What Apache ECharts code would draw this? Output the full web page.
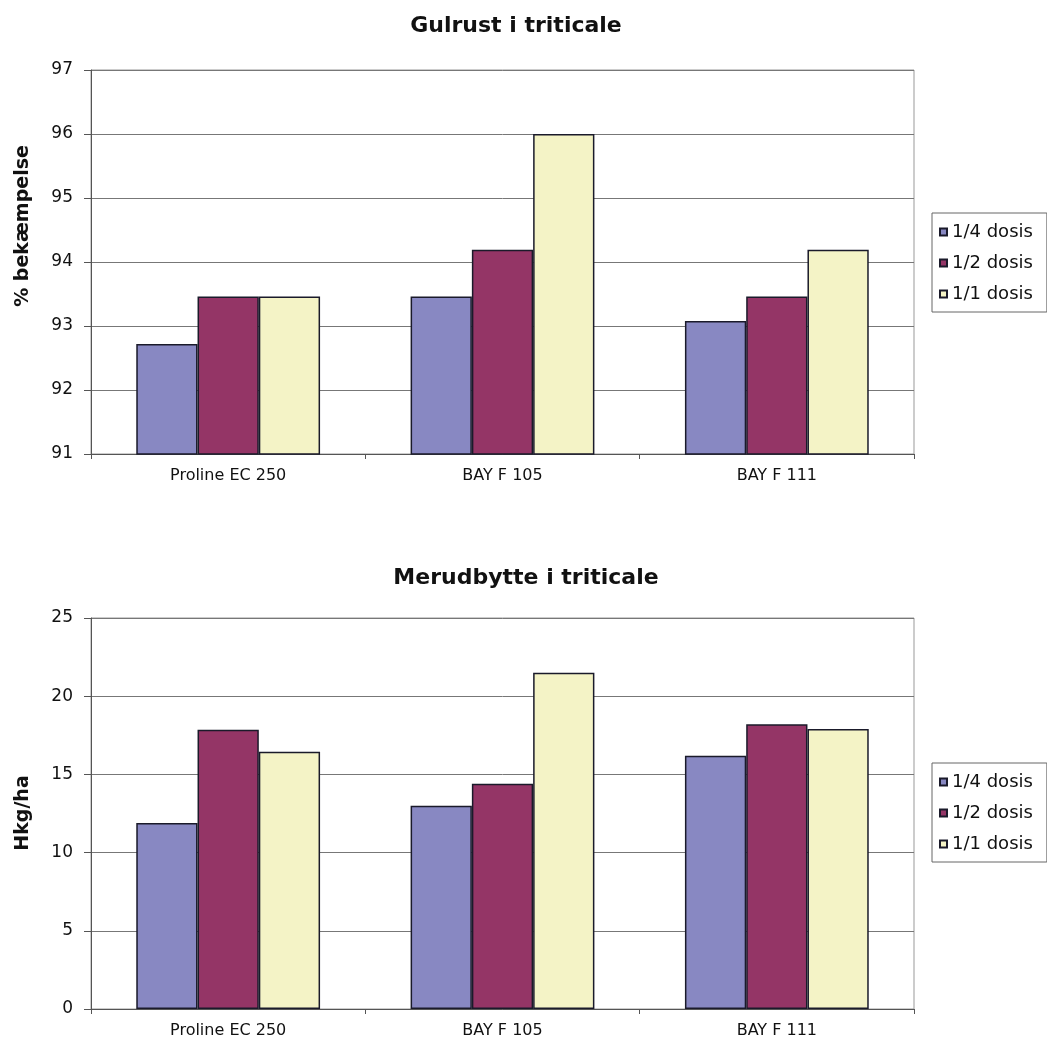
<!DOCTYPE html>
<html><head><meta charset="utf-8">
<script src="https://cdn.jsdelivr.net/npm/echarts@6/dist/echarts.min.js"></script>
<style>html,body{margin:0;padding:0;background:#fff}#c{width:1047px;height:1051px}</style>
</head><body><div id="c"></div>
<script>
const categories = ["Proline EC 250", "BAY F 105", "BAY F 111"];
const seriesNames = ["1/4 dosis", "1/2 dosis", "1/1 dosis"];
const gulrust = {
  q: [92.72, 93.46, 93.08],
  h: [93.46, 94.19, 93.46],
  f: [93.46, 96.0, 94.19]
};
const merudbytte = {
  q: [11.9, 13.0, 16.2],
  h: [17.85, 14.4, 18.2],
  f: [16.45, 21.5, 17.9]
};
const titles = ["Gulrust i triticale", "Merudbytte i triticale"];
const yNames = ["% bekæmpelse", "Hkg/ha"];
const colors = ["#8888c2", "#943566", "#f4f3c6"];

const font = "DejaVu Sans, Verdana, sans-serif";
const chart = echarts.init(document.getElementById('c'));

function xAxis(gi) {
  return {
    type: 'category', gridIndex: gi, data: categories,
    axisLine: {lineStyle: {color: '#555', width: 1}},
    axisTick: {show: true, length: 5, lineStyle: {color: '#555'}},
    axisLabel: {color: '#111', fontSize: 16, fontFamily: font, margin: 14}
  };
}
function yAxis(gi, min, max, interval) {
  return {
    type: 'value', gridIndex: gi, min, max, interval,
    axisLine: {show: true, lineStyle: {color: '#555', width: 1}},
    axisTick: {show: true, length: 7, lineStyle: {color: '#555'}},
    axisLabel: {color: '#111', fontSize: 17, fontFamily: font, margin: 18},
    splitLine: {lineStyle: {color: '#777', width: 1}}
  };
}
function mkSeries(gi, data) {
  const keys = ['q', 'h', 'f'];
  return keys.map((k, i) => ({
    type: 'bar', name: seriesNames[i], xAxisIndex: gi, yAxisIndex: gi,
    data: data[k], barGap: '0%', barCategoryGap: '33%',
    itemStyle: {color: colors[i], borderColor: '#1a1a2a', borderWidth: 1.5},
    emphasis: {disabled: true}
  }));
}
function legend(top) {
  return {
    orient: 'vertical', left: 932, top,
    borderColor: '#666', borderWidth: 1, padding: [10, 14, 9, 7],
    itemWidth: 7, itemHeight: 7, itemGap: 13,
    icon: 'rect',
    textStyle: {fontSize: 18, color: '#111', fontFamily: font},
    data: seriesNames
  };
}
function yName(text, y) {
  return {
    type: 'text', x: 23, y, rotation: Math.PI / 2,
    style: {text, fontSize: 19, fontWeight: 'bold', fill: '#111', fontFamily: font,
            textAlign: 'center', textVerticalAlign: 'middle'}
  };
}

chart.setOption({
  animation: false,
  title: [
    {text: titles[0], left: 511, textAlign: 'center', top: 10, textStyle: {fontSize: 22, fontWeight: 'bold', color: '#111', fontFamily: font}},
    {text: titles[1], left: 521, textAlign: 'center', top: 562, textStyle: {fontSize: 22, fontWeight: 'bold', color: '#111', fontFamily: font}}
  ],
  legend: [legend(213), legend(763)],
  grid: [
    {left: 91, top: 70, right: 133, height: 384, show: true, borderColor: '#999', borderWidth: 1},
    {left: 91, top: 618, right: 133, height: 391, show: true, borderColor: '#999', borderWidth: 1}
  ],
  xAxis: [xAxis(0), xAxis(1)],
  yAxis: [yAxis(0, 91, 97, 1), yAxis(1, 0, 25, 5)],
  graphic: [yName(yNames[0], 226), yName(yNames[1], 813)],
  series: [...mkSeries(0, gulrust), ...mkSeries(1, merudbytte)]
});
</script></body></html>
